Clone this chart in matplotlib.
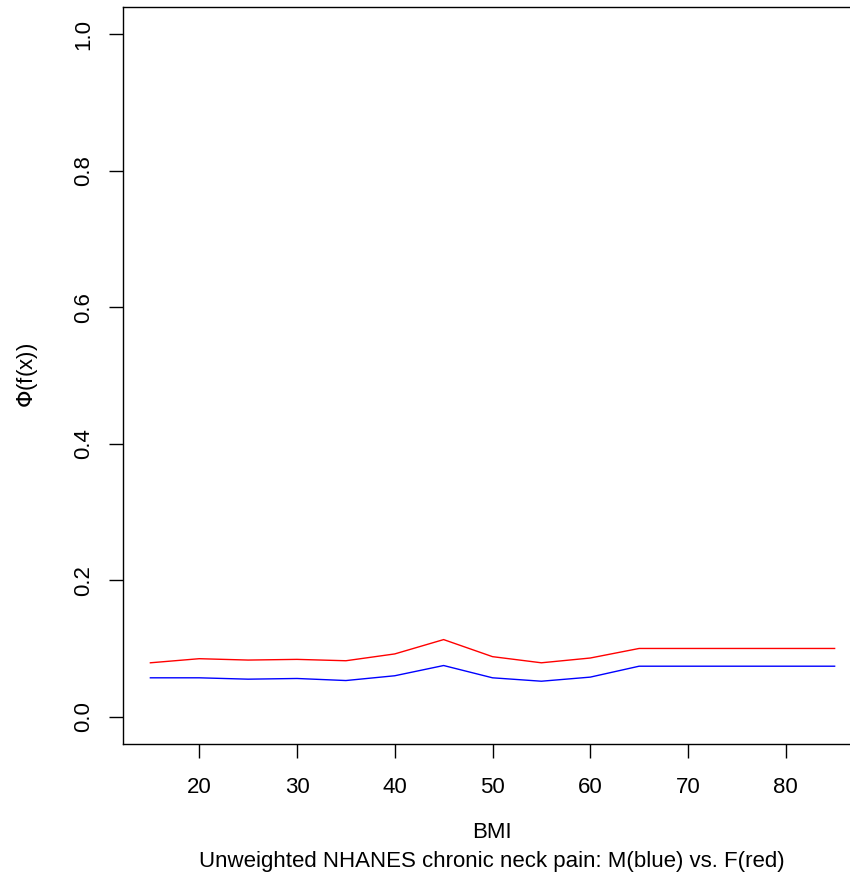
import matplotlib
matplotlib.use("Agg")
import matplotlib.pyplot as plt

# BMI grid and the two fitted curves
bmi = [15, 20, 25, 30, 35, 40, 45, 50, 55, 60, 65, 70, 75, 80, 85]
male = [0.057, 0.057, 0.055, 0.056, 0.053, 0.060, 0.075, 0.057, 0.052, 0.058,
        0.074, 0.074, 0.074, 0.074, 0.074]
female = [0.079, 0.085, 0.083, 0.084, 0.082, 0.092, 0.113, 0.088, 0.079, 0.086,
          0.100, 0.100, 0.100, 0.100, 0.100]
xticks = [20, 30, 40, 50, 60, 70, 80]
yticks = [0.0, 0.2, 0.4, 0.6, 0.8, 1.0]

plt.rcParams['font.family'] = ['Liberation Sans', 'DejaVu Sans']
fs = 16

W, H = 850, 881
fig = plt.figure(figsize=(W / 100, H / 100), dpi=100)
# the source image is cropped on the right, so the box runs past the edge
ax = fig.add_axes([123 / W, (H - 744) / H, (862 - 123) / W, (744 - 7) / H])

ax.plot(bmi, male, color='blue', lw=1.0)
ax.plot(bmi, female, color='red', lw=1.0)

ax.set_xlim(12.2, 87.8)
ax.set_ylim(-0.04, 1.04)
ax.set_xticks(xticks)
ax.set_xticklabels([str(t) for t in xticks])
ax.set_yticks(yticks)
ax.set_yticklabels([f"{t:.1f}" for t in yticks], rotation=90, va='center')
ax.tick_params(direction='out', length=10, width=1, labelsize=fs)
ax.tick_params(axis='x', pad=14)
ax.tick_params(axis='y', pad=11)
for s in ax.spines.values():
    s.set_linewidth(1)

fig.text(492 / W, 1 - 833 / H, "BMI", ha='center', va='center', fontsize=fs)
fig.text(492 / W, 1 - 862 / H,
         "Unweighted NHANES chronic neck pain: M(blue) vs. F(red)",
         ha='center', va='center', fontsize=fs)
fig.text(28 / W, 1 - 375 / H, r"$\Phi$(f(x))", rotation=90,
         ha='center', va='center', fontsize=fs)

fig.savefig("out.png", dpi=100)
